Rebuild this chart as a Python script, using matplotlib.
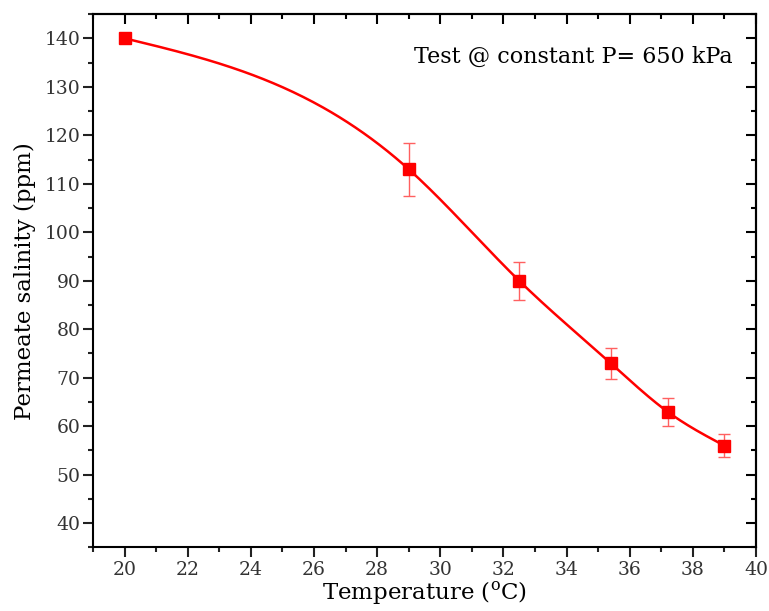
import numpy as np
import matplotlib.pyplot as plt
from matplotlib.ticker import MultipleLocator

# measured permeate salinity vs feed temperature
temperature = [20, 29, 32.5, 35.4, 37.2, 39]
salinity = [140, 113, 90, 73, 63, 56]
salinity_err = [0, 5.5, 3.9, 3.2, 2.9, 2.3]


def natural_spline(x, y, n=300):
    # natural cubic spline through the measured points, for the smooth guide line
    x = np.asarray(x, float)
    y = np.asarray(y, float)
    k = len(x)
    h = np.diff(x)
    A = np.zeros((k, k))
    b = np.zeros(k)
    A[0, 0] = A[-1, -1] = 1
    for i in range(1, k - 1):
        A[i, i - 1] = h[i - 1]
        A[i, i] = 2 * (h[i - 1] + h[i])
        A[i, i + 1] = h[i]
        b[i] = 6 * ((y[i + 1] - y[i]) / h[i] - (y[i] - y[i - 1]) / h[i - 1])
    m = np.linalg.solve(A, b)
    xs = np.linspace(x[0], x[-1], n)
    idx = np.clip(np.searchsorted(x, xs) - 1, 0, k - 2)
    x0, x1 = x[idx], x[idx + 1]
    hh = x1 - x0
    t0, t1 = x1 - xs, xs - x0
    ys = (m[idx] * t0**3 + m[idx + 1] * t1**3) / (6 * hh) \
        + (y[idx] / hh - m[idx] * hh / 6) * t0 \
        + (y[idx + 1] / hh - m[idx + 1] * hh / 6) * t1
    return xs, ys


plt.rcParams['font.family'] = ['DejaVu Serif']
plt.rcParams['mathtext.fontset'] = 'dejavuserif'

fig = plt.figure(figsize=(7.69, 6.11), dpi=100)
ax = fig.add_axes([0.121, 0.104, 0.862, 0.873])

xs, ys = natural_spline(temperature, salinity)
ax.plot(xs, ys, color='#ff0000', lw=1.8, zorder=2)
ax.errorbar(temperature, salinity, yerr=salinity_err, fmt='none',
            ecolor='#ff6060', elinewidth=1.0, capsize=4, capthick=1.0, zorder=3)
ax.plot(temperature, salinity, 's', color='#ff0000', ms=8, zorder=4)

ax.set_xlim(19, 40)
ax.set_ylim(35, 145)
ax.xaxis.set_major_locator(MultipleLocator(2))
ax.xaxis.set_minor_locator(MultipleLocator(1))
ax.yaxis.set_major_locator(MultipleLocator(10))
ax.yaxis.set_minor_locator(MultipleLocator(5))

for s in ax.spines.values():
    s.set_linewidth(1.5)

ax.tick_params(which='both', direction='out', width=1.5, labelsize=13.5,
               colors='#222222', labelcolor='#333333')
ax.tick_params(which='major', length=7, pad=2)
ax.tick_params(which='minor', length=3.5)
ax.tick_params(axis='x', which='major', pad=3)

# mirrored inward ticks on top and right
top = ax.secondary_xaxis('top')
top.set_xticks(np.arange(19, 41, 1))
top.tick_params(direction='in', length=7, width=1.5, labeltop=False)
for i, t in enumerate(top.xaxis.get_major_ticks()):
    if int(np.arange(19, 41, 1)[i]) % 2:
        t.tick2line.set_markersize(3.5)
top.spines['top'].set_linewidth(1.5)

right = ax.secondary_yaxis('right')
right.set_yticks(np.arange(35, 146, 5))
right.tick_params(direction='in', length=7, width=1.5, labelright=False)
for i, t in enumerate(right.yaxis.get_major_ticks()):
    if int(np.arange(35, 146, 5)[i]) % 10:
        t.tick2line.set_markersize(3.5)
right.spines['right'].set_linewidth(1.5)

ax.set_xlabel('Temperature ($^{\\rm o}$C)', fontsize=16.5, labelpad=0)
ax.set_ylabel('Permeate salinity (ppm)', fontsize=16.5, labelpad=6)

ax.text(0.965, 0.92, 'Test @ constant P= 650 kPa', transform=ax.transAxes,
        ha='right', va='center', fontsize=16)

fig.savefig('out.png', dpi=100)
